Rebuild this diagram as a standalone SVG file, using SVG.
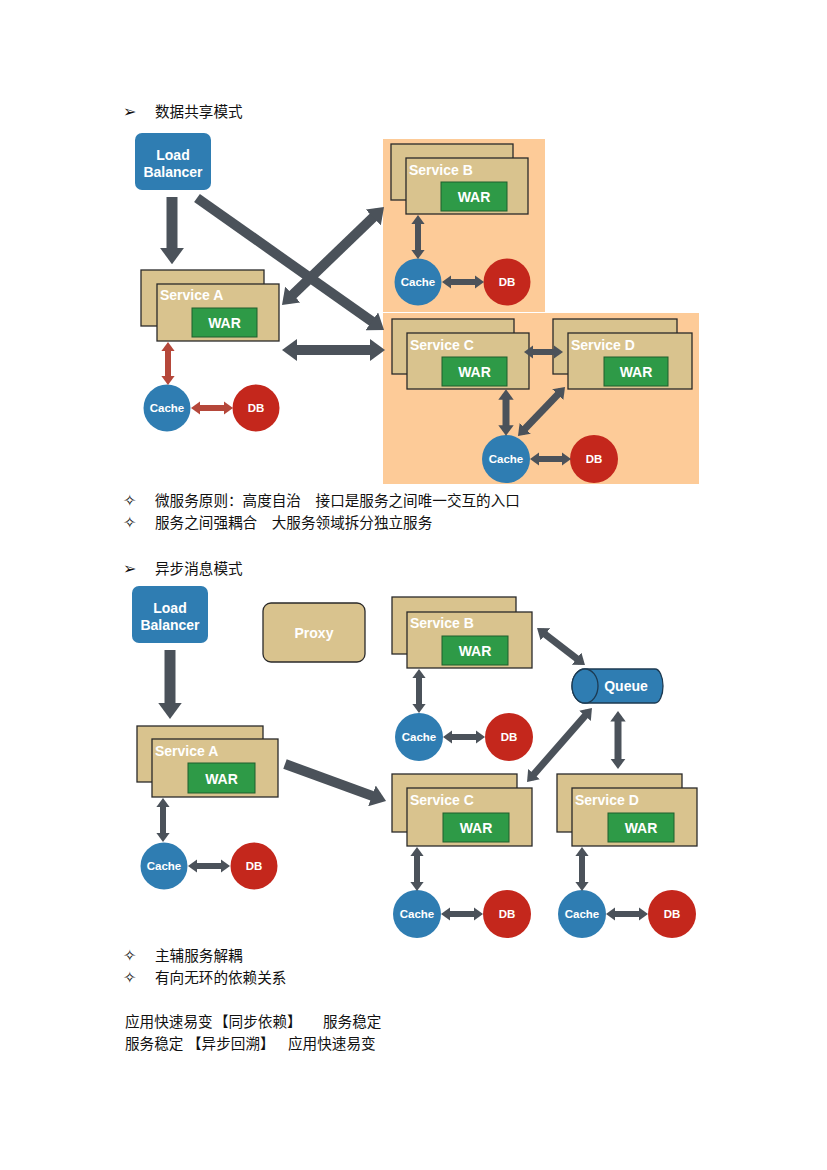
<svg xmlns="http://www.w3.org/2000/svg" width="827" height="1170" viewBox="0 0 827 1170">
<style>
.bg{fill:#ffffff}
.panel{fill:#fdcb98}
.lb{fill:#2f7db2}
.svc{fill:#d9c38e;stroke:#2a2a2a;stroke-width:1.3}
.war{fill:#2e9a47;stroke:#1f5e2c;stroke-width:1}
.cache{fill:#2f7db2}
.db{fill:#c4271c}
.q{fill:#2f7db2;stroke:#1c3a52;stroke-width:1.3}
.lbl{font-family:"Liberation Sans",Arial,sans-serif;font-weight:bold;fill:#ffffff}
.t14{font-size:14px}
.t11{font-size:11.5px}
.mid{text-anchor:middle}
.cjk{font-family:"Noto Sans CJK SC","Noto Sans CJK JP",sans-serif;font-size:14.6px;fill:#111111}
.bul{font-family:"DejaVu Sans",sans-serif;font-size:16px;fill:#111111}
.ad{stroke:#4b525a;fill:none}
.ar{stroke:#b5473a;fill:none}
.w11{stroke-width:11}
.w10{stroke-width:10}
.w7{stroke-width:7}
.w6{stroke-width:6}
</style>
<defs>
<marker id="hd" viewBox="0 0 1.5 2.2" refX="0.75" refY="1.1" markerWidth="1.5" markerHeight="2.2" markerUnits="strokeWidth" orient="auto-start-reverse">
<path d="M0,0 L1.5,1.1 L0,2.2 z" fill="#4b525a"/>
</marker>
<marker id="hr" viewBox="0 0 1.5 2.2" refX="0.75" refY="1.1" markerWidth="1.5" markerHeight="2.2" markerUnits="strokeWidth" orient="auto-start-reverse">
<path d="M0,0 L1.5,1.1 L0,2.2 z" fill="#b5473a"/>
</marker>
</defs>
<rect class="bg" x="0" y="0" width="827" height="1170"/>

<!-- headings and notes -->
<g id="texts">
<text class="bul" x="123" y="117">➢</text>
<text class="cjk" x="155" y="117">数据共享模式</text>
<text class="bul" x="123" y="506">✧</text>
<text class="cjk" x="155" y="506">微服务原则：高度自治　接口是服务之间唯一交互的入口</text>
<text class="bul" x="123" y="528">✧</text>
<text class="cjk" x="155" y="528">服务之间强耦合　大服务领域拆分独立服务</text>
<text class="bul" x="123" y="574">➢</text>
<text class="cjk" x="155" y="574">异步消息模式</text>
<text class="bul" x="123" y="961">✧</text>
<text class="cjk" x="155" y="961">主辅服务解耦</text>
<text class="bul" x="123" y="983">✧</text>
<text class="cjk" x="155" y="983">有向无环的依赖关系</text>
<text class="cjk" x="125" y="1027">应用快速易变</text>
<text class="cjk" x="214" y="1027">【同步依赖】</text>
<text class="cjk" x="323" y="1027">服务稳定</text>
<text class="cjk" x="125" y="1049">服务稳定</text>
<text class="cjk" x="187" y="1049">【异步回溯】</text>
<text class="cjk" x="288" y="1049">应用快速易变</text>
</g>

<!-- ===== Diagram 1 ===== -->
<g id="panelB1"><rect class="panel" x="383" y="139" width="162" height="173"/></g>
<g id="panelCD1"><rect class="panel" x="383" y="313" width="316" height="171"/></g>

<g id="lb1">
<rect class="lb" x="135" y="133" width="76" height="57" rx="7"/>
<text class="lbl t14 mid" x="173" y="160">Load</text>
<text class="lbl t14 mid" x="173" y="177">Balancer</text>
</g>

<g id="svcA1">
<rect class="svc" x="141" y="270" width="123" height="56"/>
<rect class="svc" x="157" y="284" width="122" height="57"/>
<text class="lbl t14" x="160" y="300">Service A</text>
<rect class="war" x="192" y="308" width="65" height="29"/>
<text class="lbl t14 mid" x="224.5" y="328">WAR</text>
</g>
<g id="cacheA1"><circle class="cache" cx="167" cy="408" r="23.5"/><text class="lbl t11 mid" x="167" y="412">Cache</text></g>
<g id="dbA1"><circle class="db" cx="256" cy="408" r="23.5"/><text class="lbl t11 mid" x="256" y="412">DB</text></g>

<g id="svcB1">
<rect class="svc" x="391" y="144" width="122" height="56"/>
<rect class="svc" x="406" y="158" width="122" height="56"/>
<text class="lbl t14" x="409" y="175">Service B</text>
<rect class="war" x="441" y="182" width="66" height="29"/>
<text class="lbl t14 mid" x="474" y="202">WAR</text>
</g>
<g id="cacheB1"><circle class="cache" cx="418" cy="282" r="23.5"/><text class="lbl t11 mid" x="418" y="286">Cache</text></g>
<g id="dbB1"><circle class="db" cx="507" cy="282" r="23.5"/><text class="lbl t11 mid" x="507" y="286">DB</text></g>

<g id="svcC1">
<rect class="svc" x="392" y="319" width="122" height="55"/>
<rect class="svc" x="407" y="333" width="122" height="56"/>
<text class="lbl t14" x="410" y="350">Service C</text>
<rect class="war" x="442" y="357" width="65" height="29"/>
<text class="lbl t14 mid" x="474.5" y="377">WAR</text>
</g>
<g id="svcD1">
<rect class="svc" x="553" y="319" width="124" height="55"/>
<rect class="svc" x="568" y="333" width="124" height="56"/>
<text class="lbl t14" x="571" y="350">Service D</text>
<rect class="war" x="604" y="357" width="64" height="29"/>
<text class="lbl t14 mid" x="636" y="377">WAR</text>
</g>
<g id="cacheC1"><circle class="cache" cx="506" cy="459" r="24"/><text class="lbl t11 mid" x="506" y="463">Cache</text></g>
<g id="dbC1"><circle class="db" cx="594" cy="459" r="24"/><text class="lbl t11 mid" x="594" y="463">DB</text></g>

<!-- ===== Diagram 2 ===== -->
<g id="lb2">
<rect class="lb" x="132" y="586" width="76" height="57" rx="7"/>
<text class="lbl t14 mid" x="170" y="613">Load</text>
<text class="lbl t14 mid" x="170" y="630">Balancer</text>
</g>
<g id="proxy2">
<rect class="svc" x="263" y="603" width="102" height="59" rx="8"/>
<text class="lbl t14 mid" x="314" y="638">Proxy</text>
</g>
<g id="svcA2">
<rect class="svc" x="137" y="726" width="126" height="56"/>
<rect class="svc" x="152" y="739" width="126" height="58"/>
<text class="lbl t14" x="155" y="756">Service A</text>
<rect class="war" x="188" y="763" width="67" height="30"/>
<text class="lbl t14 mid" x="221.5" y="784">WAR</text>
</g>
<g id="cacheA2"><circle class="cache" cx="164" cy="866" r="23.5"/><text class="lbl t11 mid" x="164" y="870">Cache</text></g>
<g id="dbA2"><circle class="db" cx="254" cy="866" r="23.5"/><text class="lbl t11 mid" x="254" y="870">DB</text></g>

<g id="svcB2">
<rect class="svc" x="392" y="597" width="124" height="57"/>
<rect class="svc" x="407" y="612" width="125" height="56"/>
<text class="lbl t14" x="410" y="628">Service B</text>
<rect class="war" x="442" y="636" width="66" height="29"/>
<text class="lbl t14 mid" x="475" y="656">WAR</text>
</g>
<g id="cacheB2"><circle class="cache" cx="419" cy="737" r="24"/><text class="lbl t11 mid" x="419" y="741">Cache</text></g>
<g id="dbB2"><circle class="db" cx="509" cy="737" r="24"/><text class="lbl t11 mid" x="509" y="741">DB</text></g>

<g id="queue2">
<path class="q" d="M585,669 L655,669 A8,17 0 0 1 655,703 L585,703 A13,17 0 0 1 585,669 z"/>
<ellipse class="q" cx="585" cy="686" rx="13" ry="17"/>
<text class="lbl t14 mid" x="626" y="691">Queue</text>
</g>

<g id="svcC2">
<rect class="svc" x="392" y="774" width="125" height="58"/>
<rect class="svc" x="407" y="788" width="125" height="58"/>
<text class="lbl t14" x="410" y="805">Service C</text>
<rect class="war" x="443" y="813" width="66" height="29"/>
<text class="lbl t14 mid" x="476" y="833">WAR</text>
</g>
<g id="svcD2">
<rect class="svc" x="557" y="774" width="125" height="58"/>
<rect class="svc" x="572" y="788" width="125" height="58"/>
<text class="lbl t14" x="575" y="805">Service D</text>
<rect class="war" x="608" y="813" width="66" height="29"/>
<text class="lbl t14 mid" x="641" y="833">WAR</text>
</g>
<g id="cacheC2"><circle class="cache" cx="417" cy="914" r="24"/><text class="lbl t11 mid" x="417" y="918">Cache</text></g>
<g id="dbC2"><circle class="db" cx="507" cy="914" r="24"/><text class="lbl t11 mid" x="507" y="918">DB</text></g>
<g id="cacheD2"><circle class="cache" cx="582" cy="914" r="24"/><text class="lbl t11 mid" x="582" y="918">Cache</text></g>
<g id="dbD2"><circle class="db" cx="672" cy="914" r="24"/><text class="lbl t11 mid" x="672" y="918">DB</text></g>

<!-- connectors -->
<g id="connectors">
<line class="ad w11" x1="172" y1="197" x2="172" y2="256" marker-end="url(#hd)"/>
<line class="ad w10" x1="197" y1="198" x2="377.9" y2="325.7" marker-end="url(#hd)"/>
<line class="ad w10" x1="378.6" y1="212.2" x2="287.4" y2="299.8" marker-start="url(#hd)" marker-end="url(#hd)"/>
<line class="ad w10" x1="289.5" y1="350" x2="377.5" y2="350" marker-start="url(#hd)" marker-end="url(#hd)"/>
<line class="ar w6" x1="168" y1="346.5" x2="168" y2="380.5" marker-start="url(#hr)" marker-end="url(#hr)"/>
<line class="ar w6" x1="195.5" y1="408" x2="228.5" y2="408" marker-start="url(#hr)" marker-end="url(#hr)"/>
<line class="ad w6" x1="418" y1="219.5" x2="418" y2="254.5" marker-start="url(#hd)" marker-end="url(#hd)"/>
<line class="ad w6" x1="446.5" y1="282" x2="479.5" y2="282" marker-start="url(#hd)" marker-end="url(#hd)"/>
<line class="ad w6" x1="528.5" y1="352" x2="558.5" y2="352" marker-start="url(#hd)" marker-end="url(#hd)"/>
<line class="ad w7" x1="506" y1="394.5" x2="506" y2="430.5" marker-start="url(#hd)" marker-end="url(#hd)"/>
<line class="ad w7" x1="561.4" y1="390.8" x2="521.6" y2="432.2" marker-start="url(#hd)" marker-end="url(#hd)"/>
<line class="ad w6" x1="534.5" y1="459" x2="566.5" y2="459" marker-start="url(#hd)" marker-end="url(#hd)"/>

<line class="ad w11" x1="170" y1="650" x2="170" y2="710.75" marker-end="url(#hd)"/>
<line class="ad w10" x1="285" y1="764" x2="379" y2="798.4" marker-end="url(#hd)"/>
<line class="ad w6" x1="163" y1="802.5" x2="163" y2="837.5" marker-start="url(#hd)" marker-end="url(#hd)"/>
<line class="ad w6" x1="192.5" y1="866" x2="225.5" y2="866" marker-start="url(#hd)" marker-end="url(#hd)"/>
<line class="ad w6" x1="419" y1="673.5" x2="419" y2="708.5" marker-start="url(#hd)" marker-end="url(#hd)"/>
<line class="ad w6" x1="447.5" y1="737" x2="480.5" y2="737" marker-start="url(#hd)" marker-end="url(#hd)"/>
<line class="ad w7" x1="541.2" y1="631.2" x2="580.8" y2="661.8" marker-start="url(#hd)" marker-end="url(#hd)"/>
<line class="ad w7" x1="588.5" y1="711.9" x2="530.5" y2="778.1" marker-start="url(#hd)" marker-end="url(#hd)"/>
<line class="ad w7" x1="618" y1="716.25" x2="618" y2="763.75" marker-start="url(#hd)" marker-end="url(#hd)"/>
<line class="ad w6" x1="417" y1="851.5" x2="417" y2="886.5" marker-start="url(#hd)" marker-end="url(#hd)"/>
<line class="ad w6" x1="445.5" y1="914" x2="478.5" y2="914" marker-start="url(#hd)" marker-end="url(#hd)"/>
<line class="ad w6" x1="582" y1="851.5" x2="582" y2="886.5" marker-start="url(#hd)" marker-end="url(#hd)"/>
<line class="ad w6" x1="610.5" y1="914" x2="643.5" y2="914" marker-start="url(#hd)" marker-end="url(#hd)"/>
</g>
</svg>
